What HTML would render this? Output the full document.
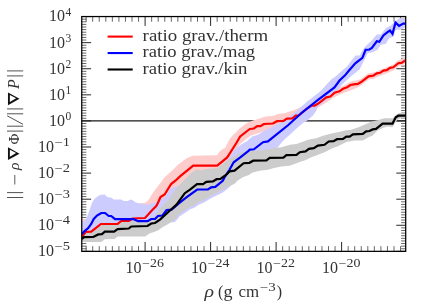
<!DOCTYPE html>
<html><head><meta charset="utf-8"><title>plot</title><style>html,body{margin:0;padding:0;background:#fff;font-family:"Liberation Serif",serif;}svg{display:block;will-change:transform}</style></head><body>
<svg width="436" height="305" viewBox="0 0 436 305" font-family="Liberation Serif, serif">
<rect width="436" height="305" fill="#fff"/>
<clipPath id="c"><rect x="81.75" y="16.55" width="323.95" height="234.79999999999998"/></clipPath>
<path d="M81.75 248.76h4.6M405.7 248.76h-4.6M81.75 246.15h4.6M405.7 246.15h-4.6M81.75 243.54h4.6M405.7 243.54h-4.6M81.75 240.93h4.6M405.7 240.93h-4.6M81.75 238.32h4.6M405.7 238.32h-4.6M81.75 235.72h4.6M405.7 235.72h-4.6M81.75 233.11h4.6M405.7 233.11h-4.6M81.75 230.50h4.6M405.7 230.50h-4.6M81.75 227.89h4.6M405.7 227.89h-4.6M81.75 222.67h4.6M405.7 222.67h-4.6M81.75 220.06h4.6M405.7 220.06h-4.6M81.75 217.45h4.6M405.7 217.45h-4.6M81.75 214.84h4.6M405.7 214.84h-4.6M81.75 212.24h4.6M405.7 212.24h-4.6M81.75 209.63h4.6M405.7 209.63h-4.6M81.75 207.02h4.6M405.7 207.02h-4.6M81.75 204.41h4.6M405.7 204.41h-4.6M81.75 201.80h4.6M405.7 201.80h-4.6M81.75 196.58h4.6M405.7 196.58h-4.6M81.75 193.97h4.6M405.7 193.97h-4.6M81.75 191.36h4.6M405.7 191.36h-4.6M81.75 188.75h4.6M405.7 188.75h-4.6M81.75 186.14h4.6M405.7 186.14h-4.6M81.75 183.54h4.6M405.7 183.54h-4.6M81.75 180.93h4.6M405.7 180.93h-4.6M81.75 178.32h4.6M405.7 178.32h-4.6M81.75 175.71h4.6M405.7 175.71h-4.6M81.75 170.49h4.6M405.7 170.49h-4.6M81.75 167.88h4.6M405.7 167.88h-4.6M81.75 165.27h4.6M405.7 165.27h-4.6M81.75 162.66h4.6M405.7 162.66h-4.6M81.75 160.06h4.6M405.7 160.06h-4.6M81.75 157.45h4.6M405.7 157.45h-4.6M81.75 154.84h4.6M405.7 154.84h-4.6M81.75 152.23h4.6M405.7 152.23h-4.6M81.75 149.62h4.6M405.7 149.62h-4.6M81.75 144.40h4.6M405.7 144.40h-4.6M81.75 141.79h4.6M405.7 141.79h-4.6M81.75 139.18h4.6M405.7 139.18h-4.6M81.75 136.57h4.6M405.7 136.57h-4.6M81.75 133.97h4.6M405.7 133.97h-4.6M81.75 131.36h4.6M405.7 131.36h-4.6M81.75 128.75h4.6M405.7 128.75h-4.6M81.75 126.14h4.6M405.7 126.14h-4.6M81.75 123.53h4.6M405.7 123.53h-4.6M81.75 118.31h4.6M405.7 118.31h-4.6M81.75 115.70h4.6M405.7 115.70h-4.6M81.75 113.09h4.6M405.7 113.09h-4.6M81.75 110.48h4.6M405.7 110.48h-4.6M81.75 107.88h4.6M405.7 107.88h-4.6M81.75 105.27h4.6M405.7 105.27h-4.6M81.75 102.66h4.6M405.7 102.66h-4.6M81.75 100.05h4.6M405.7 100.05h-4.6M81.75 97.44h4.6M405.7 97.44h-4.6M81.75 92.22h4.6M405.7 92.22h-4.6M81.75 89.61h4.6M405.7 89.61h-4.6M81.75 87.00h4.6M405.7 87.00h-4.6M81.75 84.39h4.6M405.7 84.39h-4.6M81.75 81.78h4.6M405.7 81.78h-4.6M81.75 79.18h4.6M405.7 79.18h-4.6M81.75 76.57h4.6M405.7 76.57h-4.6M81.75 73.96h4.6M405.7 73.96h-4.6M81.75 71.35h4.6M405.7 71.35h-4.6M81.75 66.13h4.6M405.7 66.13h-4.6M81.75 63.52h4.6M405.7 63.52h-4.6M81.75 60.91h4.6M405.7 60.91h-4.6M81.75 58.30h4.6M405.7 58.30h-4.6M81.75 55.70h4.6M405.7 55.70h-4.6M81.75 53.09h4.6M405.7 53.09h-4.6M81.75 50.48h4.6M405.7 50.48h-4.6M81.75 47.87h4.6M405.7 47.87h-4.6M81.75 45.26h4.6M405.7 45.26h-4.6M81.75 40.04h4.6M405.7 40.04h-4.6M81.75 37.43h4.6M405.7 37.43h-4.6M81.75 34.82h4.6M405.7 34.82h-4.6M81.75 32.21h4.6M405.7 32.21h-4.6M81.75 29.61h4.6M405.7 29.61h-4.6M81.75 27.00h4.6M405.7 27.00h-4.6M81.75 24.39h4.6M405.7 24.39h-4.6M81.75 21.78h4.6M405.7 21.78h-4.6M81.75 19.17h4.6M405.7 19.17h-4.6M86.15 251.35v-5.199999999999999M86.15 16.55v5.199999999999999M92.70 251.35v-5.199999999999999M92.70 16.55v5.199999999999999M99.25 251.35v-5.199999999999999M99.25 16.55v5.199999999999999M105.80 251.35v-5.199999999999999M105.80 16.55v5.199999999999999M112.35 251.35v-5.199999999999999M112.35 16.55v5.199999999999999M118.90 251.35v-5.199999999999999M118.90 16.55v5.199999999999999M125.45 251.35v-5.199999999999999M125.45 16.55v5.199999999999999M132.00 251.35v-5.199999999999999M132.00 16.55v5.199999999999999M138.55 251.35v-5.199999999999999M138.55 16.55v5.199999999999999M151.65 251.35v-5.199999999999999M151.65 16.55v5.199999999999999M158.20 251.35v-5.199999999999999M158.20 16.55v5.199999999999999M164.75 251.35v-5.199999999999999M164.75 16.55v5.199999999999999M171.30 251.35v-5.199999999999999M171.30 16.55v5.199999999999999M177.85 251.35v-5.199999999999999M177.85 16.55v5.199999999999999M184.40 251.35v-5.199999999999999M184.40 16.55v5.199999999999999M190.95 251.35v-5.199999999999999M190.95 16.55v5.199999999999999M197.50 251.35v-5.199999999999999M197.50 16.55v5.199999999999999M204.05 251.35v-5.199999999999999M204.05 16.55v5.199999999999999M217.15 251.35v-5.199999999999999M217.15 16.55v5.199999999999999M223.70 251.35v-5.199999999999999M223.70 16.55v5.199999999999999M230.25 251.35v-5.199999999999999M230.25 16.55v5.199999999999999M236.80 251.35v-5.199999999999999M236.80 16.55v5.199999999999999M243.35 251.35v-5.199999999999999M243.35 16.55v5.199999999999999M249.90 251.35v-5.199999999999999M249.90 16.55v5.199999999999999M256.45 251.35v-5.199999999999999M256.45 16.55v5.199999999999999M263.00 251.35v-5.199999999999999M263.00 16.55v5.199999999999999M269.55 251.35v-5.199999999999999M269.55 16.55v5.199999999999999M282.65 251.35v-5.199999999999999M282.65 16.55v5.199999999999999M289.20 251.35v-5.199999999999999M289.20 16.55v5.199999999999999M295.75 251.35v-5.199999999999999M295.75 16.55v5.199999999999999M302.30 251.35v-5.199999999999999M302.30 16.55v5.199999999999999M308.85 251.35v-5.199999999999999M308.85 16.55v5.199999999999999M315.40 251.35v-5.199999999999999M315.40 16.55v5.199999999999999M321.95 251.35v-5.199999999999999M321.95 16.55v5.199999999999999M328.50 251.35v-5.199999999999999M328.50 16.55v5.199999999999999M335.05 251.35v-5.199999999999999M335.05 16.55v5.199999999999999M348.15 251.35v-5.199999999999999M348.15 16.55v5.199999999999999M354.70 251.35v-5.199999999999999M354.70 16.55v5.199999999999999M361.25 251.35v-5.199999999999999M361.25 16.55v5.199999999999999M367.80 251.35v-5.199999999999999M367.80 16.55v5.199999999999999M374.35 251.35v-5.199999999999999M374.35 16.55v5.199999999999999M380.90 251.35v-5.199999999999999M380.90 16.55v5.199999999999999M387.45 251.35v-5.199999999999999M387.45 16.55v5.199999999999999M394.00 251.35v-5.199999999999999M394.00 16.55v5.199999999999999M400.55 251.35v-5.199999999999999M400.55 16.55v5.199999999999999" stroke="#000" stroke-width="0.6" fill="none"/>
<path d="M81.75 251.37h9.4M405.7 251.37h-9.4M81.75 225.28h9.4M405.7 225.28h-9.4M81.75 199.19h9.4M405.7 199.19h-9.4M81.75 173.10h9.4M405.7 173.10h-9.4M81.75 147.01h9.4M405.7 147.01h-9.4M81.75 120.92h9.4M405.7 120.92h-9.4M81.75 94.83h9.4M405.7 94.83h-9.4M81.75 68.74h9.4M405.7 68.74h-9.4M81.75 42.65h9.4M405.7 42.65h-9.4M81.75 16.56h9.4M405.7 16.56h-9.4M145.10 251.35v-9.4M145.10 16.55v9.4M210.60 251.35v-9.4M210.60 16.55v9.4M276.10 251.35v-9.4M276.10 16.55v9.4M341.60 251.35v-9.4M341.60 16.55v9.4" stroke="#000" stroke-width="0.85" fill="none"/>
<g clip-path="url(#c)">
<line x1="81.75" x2="405.7" y1="120.92" y2="120.92" stroke="#1a1a1a" stroke-width="1.15"/>
<polygon points="81.60,218.40 85.80,219.25 90.00,217.00 110.00,212.00 130.00,207.00 139.50,203.60 145.20,202.70 148.70,199.80 151.50,195.00 156.40,188.00 160.50,183.00 164.60,177.30 172.80,170.00 177.70,165.00 180.00,163.20 186.60,158.20 192.40,155.70 217.20,155.20 219.60,151.60 222.90,149.10 225.00,148.00 228.30,141.40 231.60,136.40 239.90,128.20 246.50,123.20 252.25,120.70 258.00,119.10 265.50,116.60 273.70,115.80 277.85,114.10 284.50,113.30 288.60,111.65 294.40,110.00 300.00,107.50 310.00,102.00 320.00,96.00 334.50,89.40 342.80,85.90 351.00,81.60 357.00,80.30 361.00,78.90 368.50,73.20 373.50,72.60 380.00,69.90 386.70,67.30 393.30,64.40 398.30,60.30 405.70,57.30 405.70,63.40 398.30,66.40 393.30,70.40 386.70,73.20 380.00,76.00 373.50,78.80 368.50,79.50 361.00,85.60 357.00,87.80 351.00,90.30 342.80,93.30 334.50,97.00 326.30,102.50 314.00,110.00 298.00,120.00 280.00,127.00 265.00,131.00 250.00,136.00 240.00,144.00 230.00,160.00 217.00,172.00 195.00,172.00 180.00,184.00 160.00,204.00 145.00,224.00 130.00,226.00 100.00,230.00 81.60,240.00" fill="#ffcccc"/>
<polygon points="81.60,222.70 85.80,219.25 88.30,213.50 92.40,201.90 94.90,198.60 99.80,195.00 104.80,194.50 107.25,197.00 111.40,197.80 113.90,199.40 121.30,199.40 123.80,201.10 127.90,201.10 130.40,199.40 132.80,200.25 135.30,202.20 138.60,203.20 146.00,204.40 152.30,203.50 156.40,201.90 158.00,201.20 161.00,199.50 165.00,197.00 170.25,188.50 175.00,187.00 179.40,184.90 185.00,182.00 195.00,178.00 210.00,176.00 222.00,168.00 228.00,159.50 231.60,154.60 234.90,149.60 240.70,144.70 246.50,141.40 252.25,136.40 258.00,134.80 263.00,131.50 267.90,129.00 274.50,125.70 281.20,122.40 287.80,117.80 294.70,112.30 299.30,108.40 307.80,101.10 314.30,95.90 320.90,90.70 326.30,84.80 332.10,78.80 335.00,76.90 341.60,71.10 347.30,66.20 351.40,60.50 355.50,55.60 359.60,55.40 364.00,48.00 367.80,44.10 371.00,41.25 376.80,34.60 380.90,34.60 385.90,28.00 390.80,25.60 395.00,21.40 399.90,18.10 404.00,18.60 405.70,19.00 405.70,28.50 404.00,28.00 399.90,29.70 395.80,29.70 393.30,37.10 389.20,37.90 385.90,43.70 380.90,44.80 377.60,49.80 372.70,52.30 367.80,53.10 365.30,58.00 362.00,64.60 359.60,69.50 351.40,76.10 343.20,83.40 337.50,90.00 332.90,94.80 325.50,100.50 318.20,106.50 316.00,111.00 313.50,115.00 306.50,121.20 303.20,122.80 296.50,128.50 291.50,133.20 284.90,139.00 281.20,143.00 277.85,147.20 270.00,152.00 255.00,165.00 240.00,176.00 232.00,184.50 227.70,188.80 222.75,192.40 216.15,195.70 209.50,199.00 204.60,202.30 198.80,204.75 193.90,208.00 190.55,208.90 184.80,213.00 179.80,216.30 174.90,222.00 172.00,222.20 167.40,223.50 160.00,226.00 150.00,230.00 120.00,234.00 81.60,240.00" fill="#ccccff"/>
<polygon points="81.60,236.00 84.10,235.00 85.60,233.00 91.20,232.60 100.90,225.00 117.60,224.80 121.25,222.00 128.75,222.00 132.50,220.00 137.00,222.00 147.50,222.00 151.10,219.50 155.00,215.50 160.00,208.50 168.50,200.00 172.00,194.30 175.20,190.00 179.40,184.80 184.70,179.50 191.20,173.00 196.50,169.60 201.50,170.60 206.40,168.90 217.20,168.10 222.90,164.00 227.10,160.70 229.50,159.00 236.20,154.90 240.30,152.60 249.80,151.30 258.00,150.50 267.90,149.60 275.00,148.10 281.60,147.25 289.90,144.80 296.50,143.90 301.40,142.30 308.00,139.80 316.30,138.20 322.90,135.70 329.50,134.00 336.10,132.40 341.00,131.60 344.60,130.55 351.20,129.70 358.60,127.25 364.40,124.80 371.90,121.50 379.30,119.80 384.20,118.20 392.50,118.20 395.80,114.90 399.10,112.90 405.70,112.90 405.70,118.50 400.75,118.50 397.50,119.80 395.00,123.10 392.50,127.25 387.50,126.40 382.60,128.10 377.60,130.55 372.70,135.50 368.55,137.20 362.80,140.50 354.50,140.50 346.25,142.10 338.00,146.20 332.80,148.10 324.50,152.20 316.30,155.50 311.30,157.20 306.00,160.00 301.00,161.60 294.50,164.00 289.50,165.70 281.20,166.50 273.00,168.20 268.00,169.80 261.40,170.60 256.50,171.50 251.50,173.10 249.40,174.70 242.75,177.20 237.80,180.50 234.50,183.80 229.50,186.30 227.70,186.60 222.75,189.90 216.15,193.20 209.50,196.50 204.60,199.80 198.80,202.25 193.90,205.55 190.55,206.40 184.80,210.50 179.80,213.80 174.90,219.60 167.40,224.40 162.00,227.60 157.90,230.50 153.30,232.20 149.80,233.30 145.30,236.60 117.90,236.60 114.50,239.00 104.80,239.30 101.40,242.00 81.60,242.00" fill="#cccccc"/>
<polyline points="81.60,236.70 84.10,234.00 85.60,232.00 91.20,231.65 100.90,224.00 117.60,223.80 121.25,221.00 128.75,221.00 132.50,218.50 145.00,218.00 148.20,214.60 152.50,209.75 156.25,206.00 158.00,202.70 160.50,197.00 164.60,194.50 171.10,184.00 175.70,180.50 180.00,176.40 193.20,165.60 217.20,165.60 227.20,157.40 233.20,148.00 236.20,143.30 240.20,136.40 249.80,129.00 253.90,128.50 257.20,126.20 260.50,126.20 263.80,124.00 272.90,123.50 277.00,121.20 283.60,120.90 286.90,118.60 292.40,118.40 295.70,115.50 298.20,115.50 300.00,114.30 306.00,109.40 311.50,105.70 314.70,105.55 318.90,103.10 326.30,97.30 330.40,96.50 334.50,92.80 339.50,91.30 343.00,88.80 347.10,87.20 350.40,85.00 353.70,84.35 357.80,83.90 361.10,82.00 368.55,76.30 373.20,75.60 376.80,73.30 380.10,72.80 383.40,70.60 386.70,70.15 390.00,67.80 393.30,67.30 398.30,63.20 401.60,62.90 405.70,60.20" fill="none" stroke="#ff0000" stroke-width="2.2" stroke-linejoin="miter" stroke-miterlimit="4"/>
<polyline points="81.60,234.20 84.10,231.65 88.20,228.10 91.20,224.00 93.75,219.00 97.00,215.50 101.25,213.00 105.00,213.00 108.75,216.00 111.25,216.00 115.00,219.20 133.75,219.20 138.00,221.20 147.50,221.20 151.25,219.00 155.00,219.00 158.00,216.00 162.50,215.50 166.60,210.00 171.60,209.70 178.20,203.90 186.40,197.30 197.20,189.50 207.90,189.50 211.20,187.40 215.30,186.90 222.75,180.80 224.60,177.20 229.50,169.80 233.70,162.30 240.30,157.40 248.50,150.80 249.80,149.60 253.90,149.30 263.00,142.20 267.90,141.40 288.30,125.00 301.50,113.00 318.00,99.80 334.50,87.40 339.50,80.50 344.80,75.60 348.80,70.80 355.30,63.30 362.40,57.80 365.60,49.80 369.40,49.50 371.90,47.90 376.80,41.25 379.30,41.75 383.40,35.50 387.50,32.20 390.00,30.50 392.50,33.80 395.50,22.60 399.10,25.90 403.20,23.60 405.70,23.60" fill="none" stroke="#0000ff" stroke-width="2.2" stroke-linejoin="miter" stroke-miterlimit="4"/>
<polyline points="81.60,238.80 84.10,237.20 93.20,237.00 98.30,234.40 101.90,234.20 104.90,231.65 114.10,231.65 117.60,229.10 128.75,228.50 131.25,226.50 147.50,226.00 151.25,223.50 155.00,223.00 160.00,219.60 169.90,210.50 176.50,204.70 184.80,193.20 190.00,189.60 197.00,184.20 203.00,184.05 206.30,181.80 212.90,181.45 216.60,179.20 220.40,179.00 226.00,175.00 229.50,171.40 234.50,170.60 243.60,163.20 249.40,162.80 253.20,160.70 266.40,160.40 269.70,157.90 283.40,157.65 286.40,155.20 296.50,154.80 299.80,152.20 305.55,151.40 308.90,148.90 313.80,148.10 317.90,145.60 324.50,144.80 328.70,141.50 333.60,141.10 336.90,139.20 343.00,139.00 346.40,136.60 349.60,136.60 352.90,134.35 362.80,133.90 366.10,131.40 369.40,131.00 372.70,129.40 376.00,128.90 382.60,123.60 392.50,123.60 395.80,117.30 398.30,115.70 405.70,115.70" fill="none" stroke="#000000" stroke-width="2.2" stroke-linejoin="miter" stroke-miterlimit="4"/>
</g>
<rect x="81.75" y="16.55" width="323.95" height="234.79999999999998" fill="none" stroke="#000" stroke-width="1.25"/>
<text x="54" y="256.27" font-size="16" text-anchor="end" fill="#333333">10</text><text x="54.6" y="250.47" font-size="11.5" fill="#333333" textLength="15.4" lengthAdjust="spacingAndGlyphs">−5</text>
<text x="54" y="230.18" font-size="16" text-anchor="end" fill="#333333">10</text><text x="54.6" y="224.38" font-size="11.5" fill="#333333" textLength="15.4" lengthAdjust="spacingAndGlyphs">−4</text>
<text x="54" y="204.09" font-size="16" text-anchor="end" fill="#333333">10</text><text x="54.6" y="198.29" font-size="11.5" fill="#333333" textLength="15.4" lengthAdjust="spacingAndGlyphs">−3</text>
<text x="54" y="178.00" font-size="16" text-anchor="end" fill="#333333">10</text><text x="54.6" y="172.20" font-size="11.5" fill="#333333" textLength="15.4" lengthAdjust="spacingAndGlyphs">−2</text>
<text x="54" y="151.91" font-size="16" text-anchor="end" fill="#333333">10</text><text x="54.6" y="146.11" font-size="11.5" fill="#333333" textLength="15.4" lengthAdjust="spacingAndGlyphs">−1</text>
<text x="65" y="125.82" font-size="16" text-anchor="end" fill="#333333">10</text><text x="65.6" y="120.02" font-size="11.5" fill="#333333">0</text>
<text x="65" y="99.73" font-size="16" text-anchor="end" fill="#333333">10</text><text x="65.6" y="93.93" font-size="11.5" fill="#333333">1</text>
<text x="65" y="73.64" font-size="16" text-anchor="end" fill="#333333">10</text><text x="65.6" y="67.84" font-size="11.5" fill="#333333">2</text>
<text x="65" y="47.55" font-size="16" text-anchor="end" fill="#333333">10</text><text x="65.6" y="41.75" font-size="11.5" fill="#333333">3</text>
<text x="65" y="21.46" font-size="16" text-anchor="end" fill="#333333">10</text><text x="65.6" y="15.66" font-size="11.5" fill="#333333">4</text>
<text x="141.60" y="272.9" font-size="16" text-anchor="end" fill="#333333">10</text><text x="142.10" y="267.3" font-size="11.5" fill="#333333" textLength="21.8" lengthAdjust="spacingAndGlyphs">−26</text>
<text x="207.10" y="272.9" font-size="16" text-anchor="end" fill="#333333">10</text><text x="207.60" y="267.3" font-size="11.5" fill="#333333" textLength="21.8" lengthAdjust="spacingAndGlyphs">−24</text>
<text x="272.60" y="272.9" font-size="16" text-anchor="end" fill="#333333">10</text><text x="273.10" y="267.3" font-size="11.5" fill="#333333" textLength="21.8" lengthAdjust="spacingAndGlyphs">−22</text>
<text x="338.10" y="272.9" font-size="16" text-anchor="end" fill="#333333">10</text><text x="338.60" y="267.3" font-size="11.5" fill="#333333" textLength="21.8" lengthAdjust="spacingAndGlyphs">−20</text>
<line x1="107.6" x2="132.7" y1="36.60" y2="36.60" stroke="#ff0000" stroke-width="2.1"/>
<text x="142.6" y="40.90" font-size="16" fill="#333333" textLength="125.6" lengthAdjust="spacingAndGlyphs">ratio grav./therm</text>
<line x1="107.6" x2="132.7" y1="53.05" y2="53.05" stroke="#0000ff" stroke-width="2.1"/>
<text x="142.6" y="57.35" font-size="16" fill="#333333" textLength="112.4" lengthAdjust="spacingAndGlyphs">ratio grav./mag</text>
<line x1="107.6" x2="132.7" y1="69.50" y2="69.50" stroke="#000" stroke-width="2.1"/>
<text x="142.6" y="73.80" font-size="16" fill="#333333" textLength="104.9" lengthAdjust="spacingAndGlyphs">ratio grav./kin</text>
<text x="204.5" y="297" font-size="16" font-style="italic" fill="#333333" textLength="9.5" lengthAdjust="spacingAndGlyphs">ρ</text>
<text x="218" y="297" font-size="16" fill="#333333">(</text>
<text x="223.6" y="297" font-size="16" fill="#333333" textLength="9" lengthAdjust="spacingAndGlyphs">g</text>
<text x="238.6" y="297" font-size="16" fill="#333333" textLength="20.6" lengthAdjust="spacingAndGlyphs">cm</text>
<text x="259.8" y="291.2" font-size="11.5" fill="#333333" textLength="16" lengthAdjust="spacingAndGlyphs">−3</text><text x="276.8" y="297" font-size="16" fill="#333333">)</text>
<path d="M7 70.9H23.2M7 75.9H23.2" stroke="#333333" stroke-width="0.85"/>
<path d="M7 108.9H23.2M7 113.8H23.2" stroke="#333333" stroke-width="0.85"/>
<path d="M7 126.2H23.2M7 131.1H23.2" stroke="#333333" stroke-width="0.85"/>
<path d="M7 192.6H23.2M7 197.5H23.2" stroke="#333333" stroke-width="0.85"/>
<path d="M23 124.3L7.2 115.8" stroke="#333333" stroke-width="0.85"/>
<path d="M14.8 175H14.8V184.5" stroke="#333333" stroke-width="0.8"/>
<path d="M7.97 92.4L7.97 105.2L19.5 98.80000000000001Z M9.85 94.95L16.07 98.20L9.85 102.00Z" fill="#111" fill-rule="evenodd"/>
<path d="M7.97 147.25L7.97 160L19.5 153.625Z M9.85 149.80L16.07 153.03L9.85 156.80Z" fill="#111" fill-rule="evenodd"/>
<text transform="translate(19 89) rotate(-90)" font-size="16" font-style="italic" fill="#333333">P</text>
<text transform="translate(19 144.6) rotate(-90)" font-size="15" fill="#333333">Φ</text>
<text transform="translate(19 169.9) rotate(-90)" font-size="15.5" font-style="italic" fill="#333333">ρ</text>
</svg>
</body></html>
